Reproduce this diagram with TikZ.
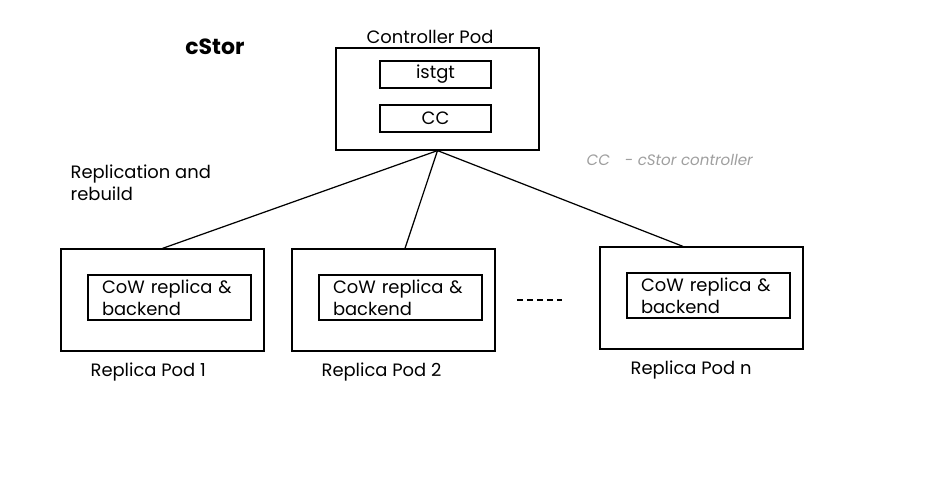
\documentclass[tikz,border=0pt]{standalone}
\usepackage{fontspec}
\setmainfont{Poppins}
\begin{document}
\begin{tikzpicture}[x=0.02cm, y=-0.02cm, line width=0.7pt,
    pod/.style={draw, rectangle, minimum width=4.06cm, minimum height=2.04cm},
    proc/.style={draw, rectangle, minimum width=2.22cm, minimum height=0.54cm, inner sep=0pt, font=\fontsize{10.2}{12.5}\selectfont},
    store/.style={draw, rectangle, minimum width=3.26cm, minimum height=0.9cm, text width=2.7cm, inner xsep=0.28cm, inner ysep=0pt, align=left, font=\fontsize{10.2}{12.5}\selectfont},
    lbl/.style={inner sep=0pt, font=\fontsize{10.2}{12.5}\selectfont}]
    \useasboundingbox (0,0) rectangle (940,500);

    % Title
    \node[inner sep=0pt, font=\fontsize{12.5}{14}\selectfont\bfseries] (title) at (215,47) {cStor};

    % Controller pod
    \node[pod] (ctrl) at (437.5,99) {};
    \node[lbl] (ctrllbl) at (430,37) {Controller Pod};
    \node[proc] (istgt) at (435.5,74.5) {istgt};
    \node[proc] (cc) at (435.5,118.5) {\raisebox{-1pt}{CC}};

    % Legend
    \node[inner sep=0pt, anchor=west, text=gray!75, font=\fontsize{8.6}{11}\selectfont\itshape] (legend) at (586,160) {CC\hspace{0.3cm}- cStor controller};
    \node[lbl, anchor=north west, align=left] (repl) at (70,164) {Replication and\\rebuild};

    % Replica pods
    \node[pod] (rep1) at (162.5,300) {};
    \node[store] (cow1) at (169.5,297.5) {CoW replica \&\\backend};
    \node[lbl, anchor=west] (rep1lbl) at (90,372) {Replica Pod 1};

    \node[pod] (rep2) at (393.5,300) {};
    \node[store] (cow2) at (400.5,297.5) {CoW replica \&\\backend};
    \node[lbl, anchor=west] (rep2lbl) at (321,372) {Replica Pod 2};

    \node[pod] (repn) at (701.5,298) {};
    \node[store] (cown) at (708.5,295.5) {CoW replica \&\\backend};
    \node[lbl, anchor=west] (repnlbl) at (630,370) {Replica Pod n};

    \coordinate (dotsL) at (517,300);
    \coordinate (dotsR) at (562,300);
    \draw[dash pattern=on 3.4pt off 2.3pt] (dotsL) -- (dotsR);

    % Links
    \draw (ctrl.south) -- (rep1.north);
    \draw (ctrl.south) -- ([xshift=0.23cm]rep2.north);
    \draw (ctrl.south) -- ([xshift=-0.37cm]repn.north);
\end{tikzpicture}
\end{document}
